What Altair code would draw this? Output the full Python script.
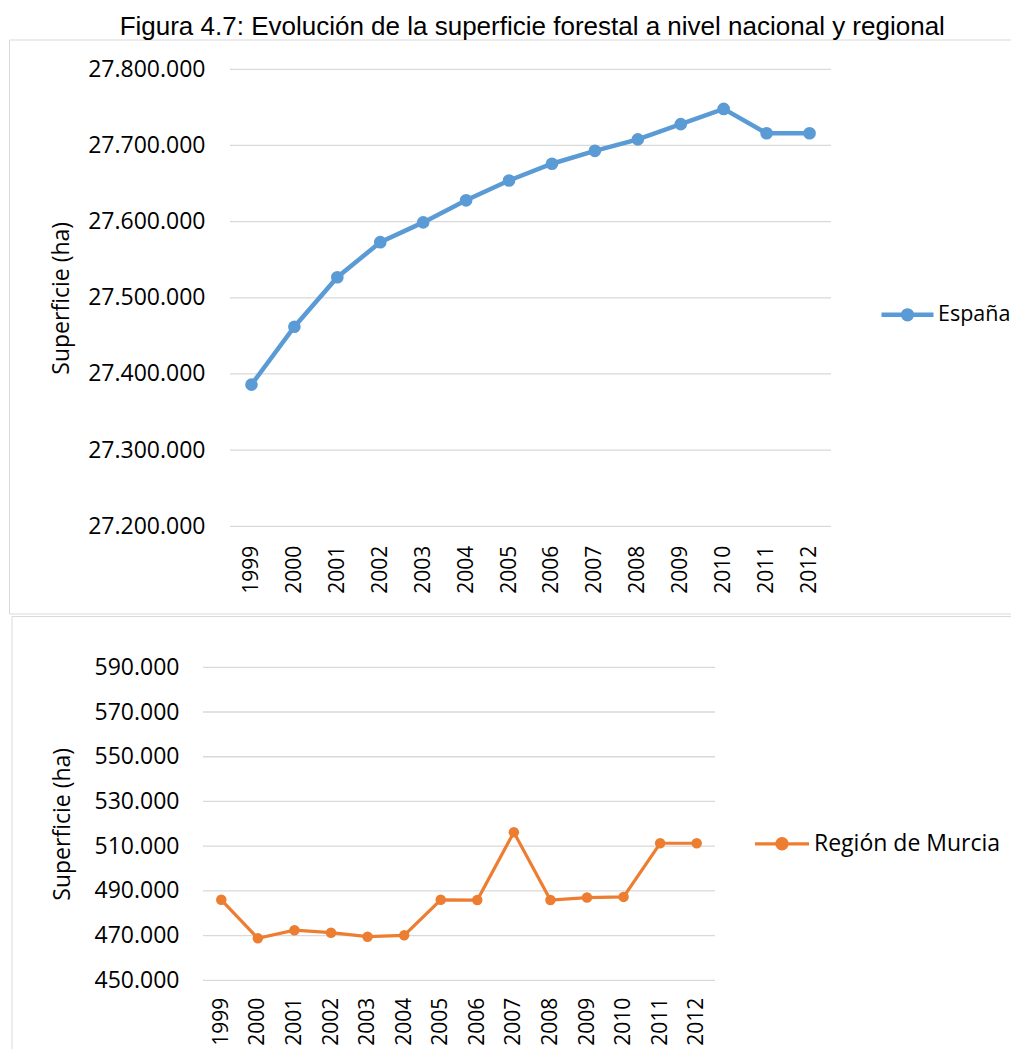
import altair as alt
import pandas as pd

years = ["1999", "2000", "2001", "2002", "2003", "2004", "2005",
         "2006", "2007", "2008", "2009", "2010", "2011", "2012"]
espana = [27386000, 27462000, 27527000, 27573000, 27599000, 27628000, 27654000,
          27676000, 27693000, 27708000, 27728000, 27748000, 27716000, 27716000]
murcia = [486000, 468800, 472400, 471300, 469500, 470100, 486000,
          485900, 516200, 485900, 487000, 487300, 511300, 511300]
espana_ticks = [27200000, 27300000, 27400000, 27500000, 27600000, 27700000, 27800000]
murcia_ticks = [450000, 470000, 490000, 510000, 530000, 550000, 570000, 590000]
series_names = ["España", "Región de Murcia"]
title_text = "Figura 4.7: Evolución de la superficie forestal a nivel nacional y regional"
axis_title = "Superficie (ha)"

BLUE = "#5B9BD5"
ORANGE = "#ED7D31"
GRID = "#D9D9D9"
FRAME = "#D9D9D9"
FONT = "Open Sans"
LABEL_EXPR = "replace(replace(format(datum.value, ',d'), ',', '.'), ',', '.')"


def circle_line_path(r):
    return (f"M-1,0H1M{-r},0A{r},{r},0,1,1,{r},0A{r},{r},0,1,1,{-r},0Z")


def panel(values, serie, color, ticks, width, height, x_range, line_w, pt_size,
          frame, legend_xy, sym_r, sym_size, sym_sw, label_offset, legend_fs,
          label_pad, title_pad, xlabel_pad, field):
    df = pd.DataFrame({"year": years, "value": values, field: serie})
    x = alt.X("year:O", title=None,
              scale=alt.Scale(type="point", padding=0.5, range=x_range),
              axis=alt.Axis(labelAngle=270, labelFont=FONT, labelFontSize=21,
                            labelColor="black", labelPadding=xlabel_pad,
                            domain=False, ticks=False, grid=False))
    yaxis = alt.Axis(values=ticks, labelExpr=LABEL_EXPR, labelFont=FONT,
                     labelFontSize=23, labelColor="black",
                     labelPadding=label_pad, domain=False, ticks=False,
                     grid=False, titleFont=FONT, titleFontSize=23,
                     titleFontWeight="normal", titleColor="black",
                     titlePadding=title_pad)
    yscale = alt.Scale(domain=[ticks[0], ticks[-1]], nice=False, zero=False)
    y = alt.Y("value:Q", title=axis_title, scale=yscale, axis=yaxis)

    grid = alt.Chart(pd.DataFrame({"tick": ticks})).mark_rule(
        color=GRID, strokeWidth=1.3).encode(
        y=alt.Y("tick:Q", title=axis_title, scale=yscale, axis=yaxis),
        x=alt.value(x_range[0]), x2=alt.value(x_range[1]))

    line = alt.Chart(df).mark_line(strokeWidth=line_w).encode(
        x=x, y=y,
        color=alt.Color(f"{field}:N",
                        scale=alt.Scale(domain=[serie], range=[color]),
                        legend=alt.Legend(orient="none", legendX=legend_xy[0],
                                          legendY=legend_xy[1], title=None,
                                          padding=0, labelLimit=400,
                                          labelFont=FONT, labelFontSize=legend_fs,
                                          labelColor="black",
                                          labelOffset=label_offset,
                                          symbolType=circle_line_path(sym_r),
                                          symbolSize=sym_size,
                                          symbolStrokeWidth=sym_sw,
                                          symbolFillColor=color,
                                          symbolStrokeColor=color,
                                          symbolOpacity=1)))
    pts = alt.Chart(df).mark_point(filled=True, size=pt_size, opacity=1,
                                   color=color).encode(x=x, y=y)
    fdf = pd.DataFrame({"k": [0]})
    l, t, r, b, has_bottom = frame
    layers = [
        alt.Chart(fdf).mark_rule(color=FRAME, strokeWidth=1).encode(
            x=alt.value(l), x2=alt.value(r), y=alt.value(t)),
        alt.Chart(fdf).mark_rule(color=FRAME, strokeWidth=1).encode(
            x=alt.value(l), y=alt.value(t), y2=alt.value(b)),
    ]
    if has_bottom:
        layers.append(alt.Chart(fdf).mark_rule(color=FRAME, strokeWidth=1).encode(
            x=alt.value(l), x2=alt.value(r), y=alt.value(b)))
    return alt.layer(*layers, grid, line, pts).properties(width=width, height=height)


top = panel(espana, series_names[0], BLUE, espana_ticks, 628, 457, [27, 628],
            4.5, 160, (-193.5, -29.3, 830, 544.7, True), (676, 217),
            0.17, 2704, 4.5, 2, 21.5, -2, 14, 19, "serie_nac")
bottom = panel(murcia, series_names[1], ORANGE, murcia_ticks, 512, 313, [0, 512],
               3.2, 110, (-191, -50.8, 850, 400, False), (550, 147.5),
               0.19, 2916, 3.2, 3, 23, 24, 20, 17, "serie_reg")

chart = alt.concat(top, bottom, columns=1).properties(
    spacing=0,
    autosize=alt.AutoSizeParams(type="none"),
    padding={"left": 195, "top": 61.3, "right": 808, "bottom": 979.7},
    title=alt.TitleParams(title_text, font="Liberation Sans", fontSize=26,
                          fontWeight="normal", color="black", anchor="middle",
                          offset=0, dx=1),
).resolve_scale(color="independent").resolve_legend(color="independent"
).configure_view(stroke=None)

chart.save("out.html", embed_options={"renderer": "svg", "actions": False})
